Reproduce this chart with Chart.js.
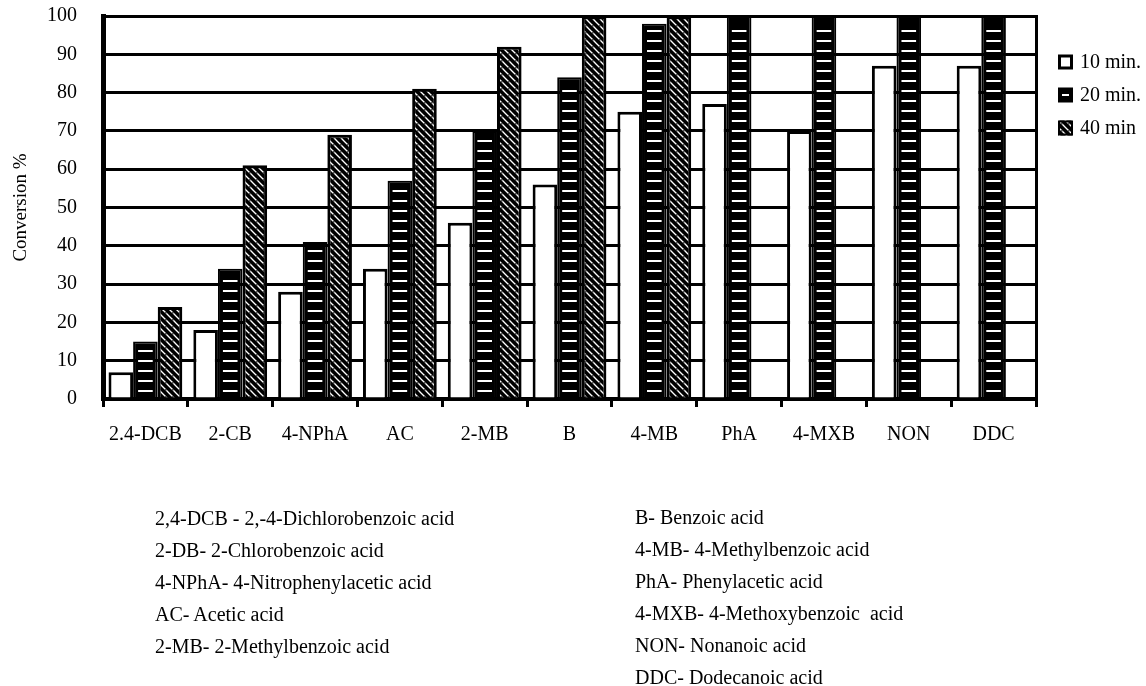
<!DOCTYPE html>
<html><head><meta charset="utf-8">
<script src="https://cdn.jsdelivr.net/npm/chart.js@4.4.0/dist/chart.umd.min.js"></script>
<style>
html,body{margin:0;padding:0;background:#fff;}
#wrap{position:relative;width:1146px;height:686px;overflow:hidden;background:#fff;}
#c{position:absolute;left:0;top:0;}
.notes{position:absolute;font-family:"Liberation Serif","Times New Roman",serif;font-size:20px;line-height:32px;color:#000;white-space:pre;}
</style></head>
<body><div id="wrap"><canvas id="c" width="1146" height="686"></canvas>
<div class="notes" id="n1" style="left:155px;top:502px"></div>
<div class="notes" id="n2" style="left:635px;top:501px"></div>
</div>
<script>
const categories = ['2.4-DCB','2-CB','4-NPhA','AC','2-MB','B','4-MB','PhA','4-MXB','NON','DDC'];
const seriesNames = ['10 min.','20 min.','40 min'];
const conv10 = [7,18,28,34,46,56,75,77,70,87,87];
const conv20 = [15,34,41,57,70,84,98,100,100,100,100];
const conv40 = [24,61,69,81,92,100,100,null,null,null,null];
const yMin = 0, yMax = 100, yStep = 10;
const yTitle = 'Conversion %';
const notesLeft = ['2,4-DCB - 2,-4-Dichlorobenzoic acid','2-DB- 2-Chlorobenzoic acid','4-NPhA- 4-Nitrophenylacetic acid','AC- Acetic acid','2-MB- 2-Methylbenzoic acid'];
const notesRight = ['B- Benzoic acid','4-MB- 4-Methylbenzoic acid','PhA- Phenylacetic acid','4-MXB- 4-Methoxybenzoic  acid','NON- Nonanoic acid','DDC- Dodecanoic acid'];

document.getElementById('n1').textContent = notesLeft.join('\n');
document.getElementById('n2').textContent = notesRight.join('\n');

const FAM = '"Liberation Serif", "Times New Roman", serif';
Chart.defaults.font.family = FAM;
Chart.defaults.color = '#000';

function makeHatch(){
  const s = 7, c = document.createElement('canvas'); c.width = s; c.height = s;
  const g = c.getContext('2d');
  g.fillStyle = '#000'; g.fillRect(0,0,s,s);
  g.strokeStyle = '#fff'; g.lineWidth = 1.3;
  g.beginPath(); g.moveTo(-1,-1); g.lineTo(s+1,s+1); g.stroke();
  g.beginPath(); g.moveTo(-1,s-1); g.lineTo(1,s+1); g.stroke();
  g.beginPath(); g.moveTo(s-1,-1); g.lineTo(s+1,1); g.stroke();
  g.fillStyle = '#000'; g.fillRect(4.2,4.2,1.3,1.3);
  return g.createPattern(c,'repeat');
}
const hatch = makeHatch();

const dashPlugin = {
  id: 'dashes',
  afterDatasetsDraw(chart){
    const meta = chart.getDatasetMeta(1);
    const ctx = chart.ctx;
    ctx.save();
    ctx.strokeStyle = '#fff'; ctx.lineWidth = 2;
    meta.data.forEach(el => {
      const p = el.getProps(['x','y','base','width'], true);
      if (el.skip || p.y == null || isNaN(p.y)) return;
      const l = p.x - p.width/2 + 5, r = p.x + p.width/2 - 5;
      ctx.beginPath();
      for (let yy = p.base - 7; yy > p.y + 5; yy -= 10) {
        ctx.moveTo(l, Math.round(yy)); ctx.lineTo(r, Math.round(yy));
      }
      ctx.stroke();
    });
    ctx.restore();
  }
};

const sideLegend = {
  id: 'sideLegend',
  afterDraw(chart){
    const ctx = chart.ctx;
    const ca = chart.chartArea;
    const bx = ca.right + 22, bs = 15;
    ctx.save();
    ctx.font = '20px ' + FAM;
    ctx.textBaseline = 'middle';
    ctx.fillStyle = '#000';
    seriesNames.forEach((name, i) => {
      const cy = ca.top + 46 + i * 33;
      const by = cy - bs/2;
      if (i === 0) {
        ctx.fillStyle = '#fff'; ctx.fillRect(bx, by, bs, bs);
        ctx.strokeStyle = '#000'; ctx.lineWidth = 3; ctx.strokeRect(bx+1.5, by+1.5, bs-3, bs-3);
      } else if (i === 1) {
        ctx.fillStyle = '#000'; ctx.fillRect(bx, by, bs, bs);
        ctx.strokeStyle = '#fff'; ctx.lineWidth = 2;
        ctx.beginPath(); ctx.moveTo(bx+4, cy); ctx.lineTo(bx+bs-4, cy); ctx.stroke();
      } else {
        ctx.fillStyle = hatch; ctx.fillRect(bx, by, bs, bs);
        ctx.strokeStyle = '#000'; ctx.lineWidth = 2; ctx.strokeRect(bx+1, by+1, bs-2, bs-2);
      }
      ctx.fillStyle = '#000';
      ctx.fillText(name, bx + bs + 7, cy + 1);
    });
    ctx.restore();
  }
};

new Chart(document.getElementById('c'), {
  type: 'bar',
  data: {
    labels: categories,
    datasets: [
      { label: seriesNames[0], data: conv10, backgroundColor: '#fff', borderColor: '#000', borderWidth: 3 },
      { label: seriesNames[1], data: conv20, backgroundColor: '#000', borderColor: '#000', borderWidth: 2 },
      { label: seriesNames[2], data: conv40, backgroundColor: hatch, borderColor: '#000', borderWidth: 3 }
    ]
  },
  options: {
    responsive: false,
    animation: false,
    devicePixelRatio: 1,
    layout: { padding: { left: 0, right: 110, top: 16, bottom: 0 } },
    datasets: { bar: { categoryPercentage: 0.87, barPercentage: 1.0, borderSkipped: 'start' } },
    plugins: { legend: { display: false }, tooltip: { enabled: false } },
    scales: {
      x: {
        ticks: { font: { size: 20 }, color: '#000', padding: 16, autoSkip: false, maxRotation: 0 },
        grid: { display: true, drawOnChartArea: false, drawTicks: true, tickLength: 8, lineWidth: 3, color: '#000', offset: true },
        border: { display: true, color: '#000', width: 4 },
        afterFit(s) { s.height = 287; }
      },
      y: {
        min: yMin, max: yMax,
        ticks: { stepSize: yStep, font: { size: 20 }, color: '#000', padding: 0 },
        grid: { color: '#000', lineWidth: 3, tickLength: 26, drawTicks: true, tickColor: 'rgba(0,0,0,0)' },
        border: { display: true, color: '#000', width: 5 },
        title: { display: true, text: yTitle, font: { size: 19 }, color: '#000', padding: { top: 10, bottom: 0 } },
        afterFit(s) { s.width = 103; }
      },
      y2: {
        type: 'linear', position: 'right', display: true,
        ticks: { display: false },
        grid: { drawOnChartArea: false, drawTicks: false },
        border: { display: true, color: '#000', width: 3 },
        afterFit(s) { s.width = 0; }
      }
    }
  },
  plugins: [dashPlugin, sideLegend]
});
</script>
</body></html>
